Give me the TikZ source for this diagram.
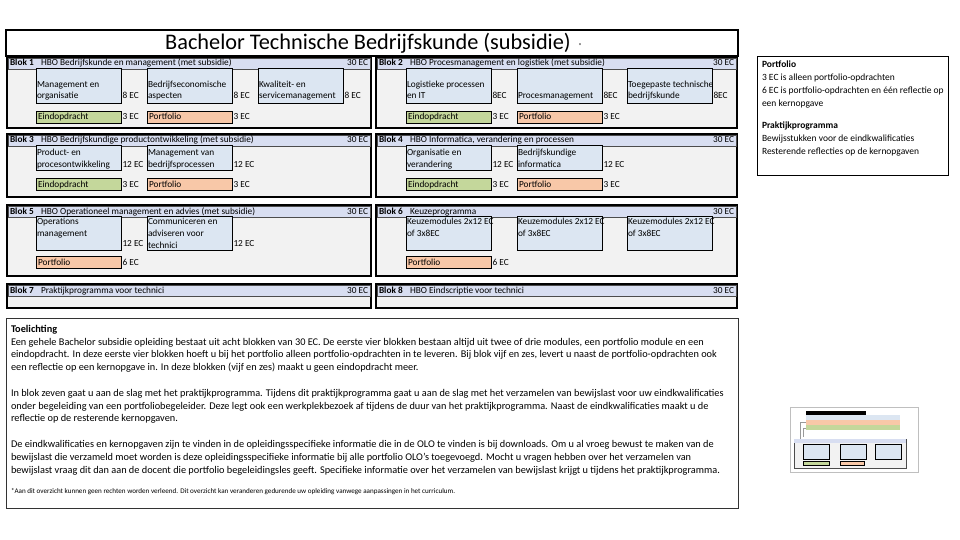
\documentclass[tikz,border=0pt]{standalone}
\usepackage{fontspec}
\setmainfont{Carlito}
\usetikzlibrary{positioning}
\usetikzlibrary{calc}

\definecolor{kopblauw}{RGB}{216,222,241}
\definecolor{blokgrijs}{RGB}{242,242,242}
\definecolor{modblauw}{RGB}{220,230,242}
\definecolor{eindgroen}{RGB}{196,215,155}
\definecolor{portoranje}{RGB}{248,200,168}

\begin{document}
\begin{tikzpicture}[x=1pt, y=-1pt,
  every node/.style={inner sep=0pt, outer sep=0pt},
  blok/.style={draw=black, line width=2pt, fill=blokgrijs, anchor=north west},
  kop/.style={draw=black!70, line width=0.4pt, fill=kopblauw, anchor=north west, minimum height=11pt},
  koptekst/.style={anchor=base west, font=\fontsize{9.3}{11}\selectfont},
  module/.style={draw=black, line width=0.8pt, fill=modblauw, anchor=north west, minimum width=85pt},
  balk/.style={draw=black, line width=0.8pt, anchor=north west, minimum width=85pt, minimum height=12pt},
  modtekst/.style={align=left, inner xsep=1pt, inner ysep=0.5pt, font=\fontsize{9.3}{11.8}\selectfont,
    execute at begin node=\strut, execute at end node=\strut},
  ectekst/.style={anchor=west, inner sep=1.5pt, font=\fontsize{9.3}{12}\selectfont}]

      \useasboundingbox (0,0) rectangle (960,540);

      % Title box
      \node[draw=black, line width=1.5pt, fill=white, anchor=north west,
            minimum width=732pt, minimum height=26pt] (titel) at (6,30) {};
      \node[font=\fontsize{22.3}{26}\selectfont] (titeltekst) at (368,43) {Bachelor Technische Bedrijfskunde (subsidie)};
      \node[font=\fontsize{7}{8}\selectfont] (ster) at (580,46) {*};

      % Blocks with their header band
      \foreach \nr/\bx/\by/\bw/\bh/\titel in {
        1/7/57/364/71/{HBO Bedrijfskunde en management (met subsidie)},
        2/376/57/361/71/{HBO Procesmanagement en logistiek (met subsidie)},
        3/7/134/364/63/{HBO Bedrijfskundige productontwikkeling (met subsidie)},
        4/376/134/361/63/{HBO Informatica, verandering en processen},
        5/7/205/364/71/{HBO Operationeel management en advies (met subsidie)},
        6/376/205/361/71/{Keuzeprogramma},
        7/7/284/364/24/{Praktijkprogramma voor technici},
        8/376/284/361/24/{HBO Eindscriptie voor technici}} {
        \node[blok, minimum width=\bw pt, minimum height=\bh pt] (blok\nr) at (\bx,\by) {};
        \node[kop, minimum width=\bw pt - 2pt] (kop\nr) at ([shift={(1pt,-1pt)}]blok\nr.north west) {};
        \node[koptekst, font=\fontsize{9.3}{11}\selectfont\bfseries] (nr\nr) at ([shift={(2pt,3pt)}]kop\nr.south west) {Blok \nr};
        \node[koptekst] (naam\nr) at ([shift={(33pt,3pt)}]kop\nr.south west) {\titel};
        \node[koptekst, anchor=base east] (ec\nr) at ([shift={(-2pt,3pt)}]kop\nr.south east) {30 EC};
      }

      % Modules (blue boxes), \dy moves the text down, \de the EC label
      \foreach \naam/\mx/\my/\mh/\uitl/\dy/\de/\tekst/\ec in {
        m11/36/68/35/south west/0/0/{Management en\\organisatie}/8 EC,
        m12/147/68/35/south west/0/0/{Bedrijfseconomische\\aspecten}/8 EC,
        m13/258/68/35/south west/0/0/{Kwaliteit- en\\servicemanagement}/8 EC,
        m21/406/68/35/south west/0/0/{Logistieke processen\\en IT}/8EC,
        m22/517/68/35/south west/0/0/{Procesmanagement}/8EC,
        m23/627/68/35/south west/0/0/{Toegepaste technische\\bedrijfskunde}/8EC,
        m31/36/145/25/south west/1.5/1.5/{Product- en\\procesontwikkeling}/12 EC,
        m32/147/145/25/south west/1.5/1.5/{Management van\\bedrijfsprocessen}/12 EC,
        m41/406/145/25/south west/1.5/1.5/{Organisatie en\\verandering}/12 EC,
        m42/517/145/25/south west/1.5/1.5/{Bedrijfskundige\\informatica}/12 EC,
        m51/36/216/34/north west/2/0/{Operations\\management}/12 EC,
        m52/147/216/34/north west/2/0/{Communiceren en\\adviseren voor\\technici}/12 EC,
        m61/406/216/34/north west/2/0/{Keuzemodules 2x12 EC\\of 3x8EC}/{},
        m62/517/216/34/north west/2/0/{Keuzemodules 2x12 EC\\of 3x8EC}/{},
        m63/627/216/34/north west/2/0/{Keuzemodules 2x12 EC\\of 3x8EC}/{}} {
        \node[module, minimum height=\mh pt] (\naam) at (\mx,\my) {};
        \node[modtekst, anchor=\uitl] (t\naam) at ([yshift=-\dy pt]\naam.\uitl) {\tekst};
        \node[ectekst, anchor=base west] (ec\naam) at ([yshift=4pt-\de pt]\naam.south east) {\ec};
      }

      % Eindopdracht and portfolio bars
      \foreach \naam/\bx/\by/\kleur/\tekst/\ec in {
        e1/36/111/eindgroen/Eindopdracht/3 EC, p1/147/111/portoranje/Portfolio/3 EC,
        e2/406/111/eindgroen/Eindopdracht/3 EC, p2/517/111/portoranje/Portfolio/3 EC,
        e3/36/178/eindgroen/Eindopdracht/3 EC, p3/147/178/portoranje/Portfolio/3 EC,
        e4/406/178/eindgroen/Eindopdracht/3 EC, p4/517/178/portoranje/Portfolio/3 EC,
        p5/36/256/portoranje/Portfolio/6 EC, p6/406/256/portoranje/Portfolio/6 EC} {
        \node[balk, fill=\kleur] (\naam) at (\bx,\by) {};
        \node[koptekst, inner sep=0pt] (t\naam) at ([shift={(2pt,3pt)}]\naam.south west) {\tekst};
        \node[koptekst] (ec\naam) at ([shift={(1.5pt,3pt)}]\naam.south east) {\ec};
      }

      % Side note
      \node[draw=black, line width=1pt, fill=white, anchor=north west,
            minimum width=191pt, minimum height=119pt] (kader) at (757,57) {};
      \node[anchor=north west, align=left, font=\fontsize{9.5}{12.8}\selectfont] (kadertekst)
        at ([shift={(5pt,-4pt)}]kader.north west)
        {\textbf{Portfolio}\\
         3 EC is alleen portfolio-opdrachten\\
         6 EC is portfolio-opdrachten en één reflectie op\\
         een kernopgave\\[10pt]
         \textbf{Praktijkprogramma}\\
         Bewijsstukken voor de eindkwalificaties\\
         Resterende reflecties op de kernopgaven};

      % Explanation
      \node[draw=black!80, line width=1pt, fill=white, anchor=north west,
            minimum width=732pt, minimum height=190pt] (toelichting) at (6,318) {};
      \node[anchor=north west, align=left, font=\fontsize{10.3}{12.8}\selectfont] (toeltekst)
        at ([shift={(5pt,-7pt)}]toelichting.north west)
        {\textbf{Toelichting}\\
         Een gehele Bachelor subsidie opleiding bestaat uit acht blokken van 30 EC. De eerste vier blokken bestaan altijd uit twee of drie modules, een portfolio module en een\\
         eindopdracht. In deze eerste vier blokken hoeft u bij het portfolio alleen portfolio-opdrachten in te leveren. Bij blok vijf en zes, levert u naast de portfolio-opdrachten ook\\
         een reflectie op een kernopgave in. In deze blokken (vijf en zes) maakt u geen eindopdracht meer.\\[12.8pt]
         In blok zeven gaat u aan de slag met het praktijkprogramma. Tijdens dit praktijkprogramma gaat u aan de slag met het verzamelen van bewijslast voor uw eindkwalificaties\\
         onder begeleiding van een portfoliobegeleider. Deze legt ook een werkplekbezoek af tijdens de duur van het praktijkprogramma. Naast de eindkwalificaties maakt u de\\
         reflectie op de resterende kernopgaven.\\[12.8pt]
         De eindkwalificaties en kernopgaven zijn te vinden in de opleidingsspecifieke informatie die in de OLO te vinden is bij downloads. Om u al vroeg bewust te maken van de\\
         bewijslast die verzameld moet worden is deze opleidingsspecifieke informatie bij alle portfolio OLO's toegevoegd. Mocht u vragen hebben over het verzamelen van\\
         bewijslast vraag dit dan aan de docent die portfolio begeleidingsles geeft. Specifieke informatie over het verzamelen van bewijslast krijgt u tijdens het praktijkprogramma.\\[8pt]
         {\fontsize{7.1}{8.5}\selectfont *Aan dit overzicht kunnen geen rechten worden verleend. Dit overzicht kan veranderen gedurende uw opleiding vanwege aanpassingen in het curriculum.}};

      % Small preview picture
      \draw[black!25, line width=0.6pt, fill=white] (790,407) rectangle (918,472);
      \fill[black] (806,411) rectangle (866,415);
      \fill[modblauw] (806,415) rectangle (900,420);
      \fill[portoranje] (806,420) rectangle (900,425);
      \fill[eindgroen] (806,425) rectangle (900,430);
      \draw[black!40, line width=0.4pt] (806,422) -- (800,422) -- (800,462) -- (803,462);
      \draw[black!40, line width=0.4pt] (806,428) -- (803,428) -- (803,437);
      \draw[black!70, line width=1pt, fill=blokgrijs] (794,439) rectangle (906,468);
      \fill[kopblauw] (794,439) rectangle (906,443);
      \foreach \px in {803,840,875} {
        \draw[black, line width=0.4pt, fill=modblauw] (\px,444) rectangle ++(26,15);
      }
      \draw[black, line width=0.4pt, fill=eindgroen] (803,461) rectangle (829,465);
      \draw[black, line width=0.4pt, fill=portoranje] (840,461) rectangle (864,465);

    \end{tikzpicture}
\end{document}
